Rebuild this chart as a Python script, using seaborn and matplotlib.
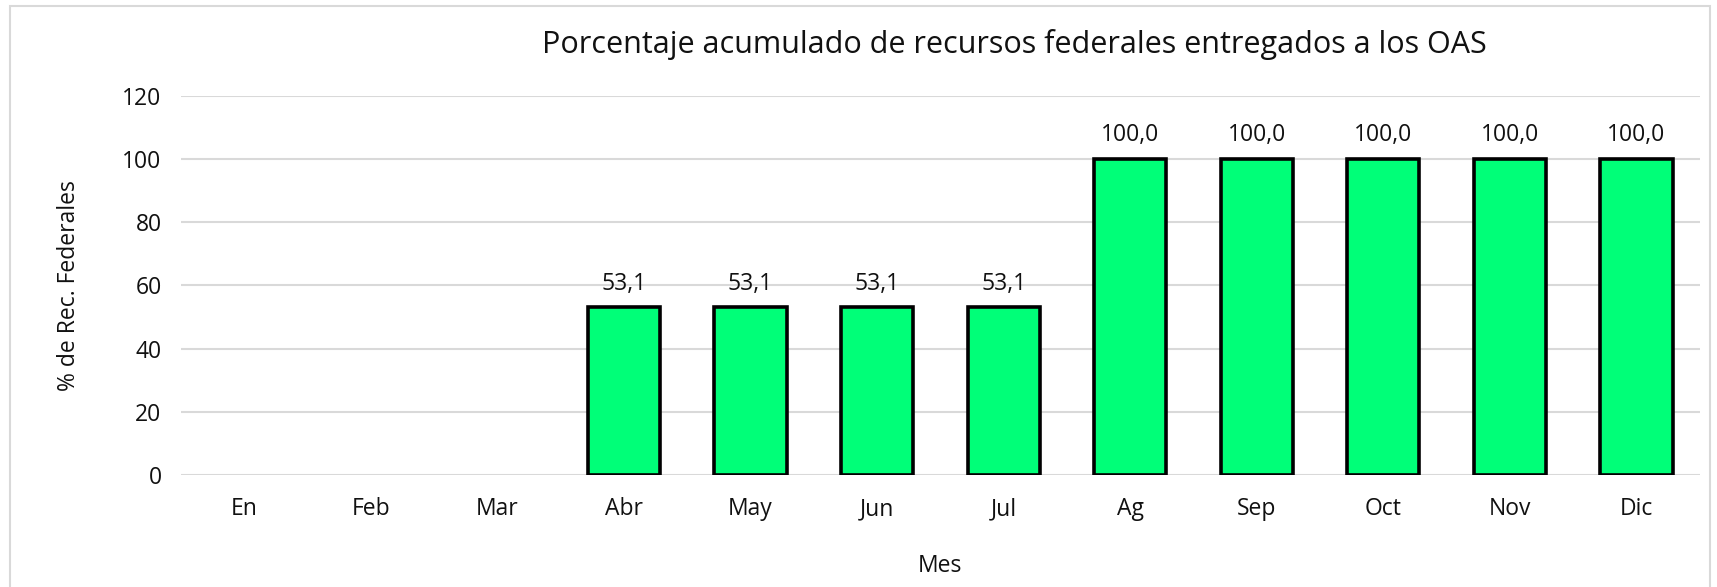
import matplotlib
matplotlib.use("Agg")
import matplotlib.pyplot as plt
import seaborn as sns
import pandas as pd
from matplotlib.patches import Rectangle

meses = ['En', 'Feb', 'Mar', 'Abr', 'May', 'Jun', 'Jul', 'Ag', 'Sep', 'Oct', 'Nov', 'Dic']
porcentaje = [0, 0, 0, 53.1, 53.1, 53.1, 53.1, 100.0, 100.0, 100.0, 100.0, 100.0]
etiquetas = ['', '', '', '53,1', '53,1', '53,1', '53,1', '100,0', '100,0', '100,0', '100,0', '100,0']

sns.set_theme(style='white')
plt.rcParams['font.family'] = ['Open Sans', 'DejaVu Sans']

df = pd.DataFrame({'Mes': meses, 'Porcentaje': porcentaje})

fig = plt.figure(figsize=(17.17, 5.87), dpi=100)
ax = fig.add_axes([0.1054, 0.191, 0.8846, 0.6455])

sns.barplot(data=df, x='Mes', y='Porcentaje', color='#00FF78', saturation=1,
            edgecolor='black', linewidth=2.6, width=0.57, ax=ax, zorder=3)

# hide the zero-height bars
for p, v in zip(ax.patches, porcentaje):
    if v == 0:
        p.set_visible(False)

for i, (v, t) in enumerate(zip(porcentaje, etiquetas)):
    if t:
        ax.text(i, v + 7.5, t, ha='center', va='center', fontsize=16.5, color='#111111')

ax.set_ylim(0, 120)
ax.set_yticks(range(0, 121, 20))
ax.yaxis.grid(True, color='#d9d9d9', linewidth=1.5, zorder=0)
ax.set_axisbelow(True)
for s in ax.spines.values():
    s.set_visible(False)
ax.tick_params(axis='both', length=0, labelsize=16.5, colors='#111111')
ax.tick_params(axis='y', pad=14)
ax.tick_params(axis='x', pad=16)
ax.set_xlabel('Mes', fontsize=16.5, labelpad=24, color='#111111')
ax.set_ylabel('% de Rec. Federales', fontsize=16.5, labelpad=30, color='#111111')

fig.text(0.591, 0.925, 'Porcentaje acumulado de recursos federales entregados a los OAS',
         ha='center', va='center', fontsize=22, color='#111111')

fig.patches.append(Rectangle((0.006, -0.01), 0.99, 1.0, transform=fig.transFigure,
                             fill=False, edgecolor='#d9d9d9', linewidth=1.5))

fig.savefig('out.png', dpi=100)
